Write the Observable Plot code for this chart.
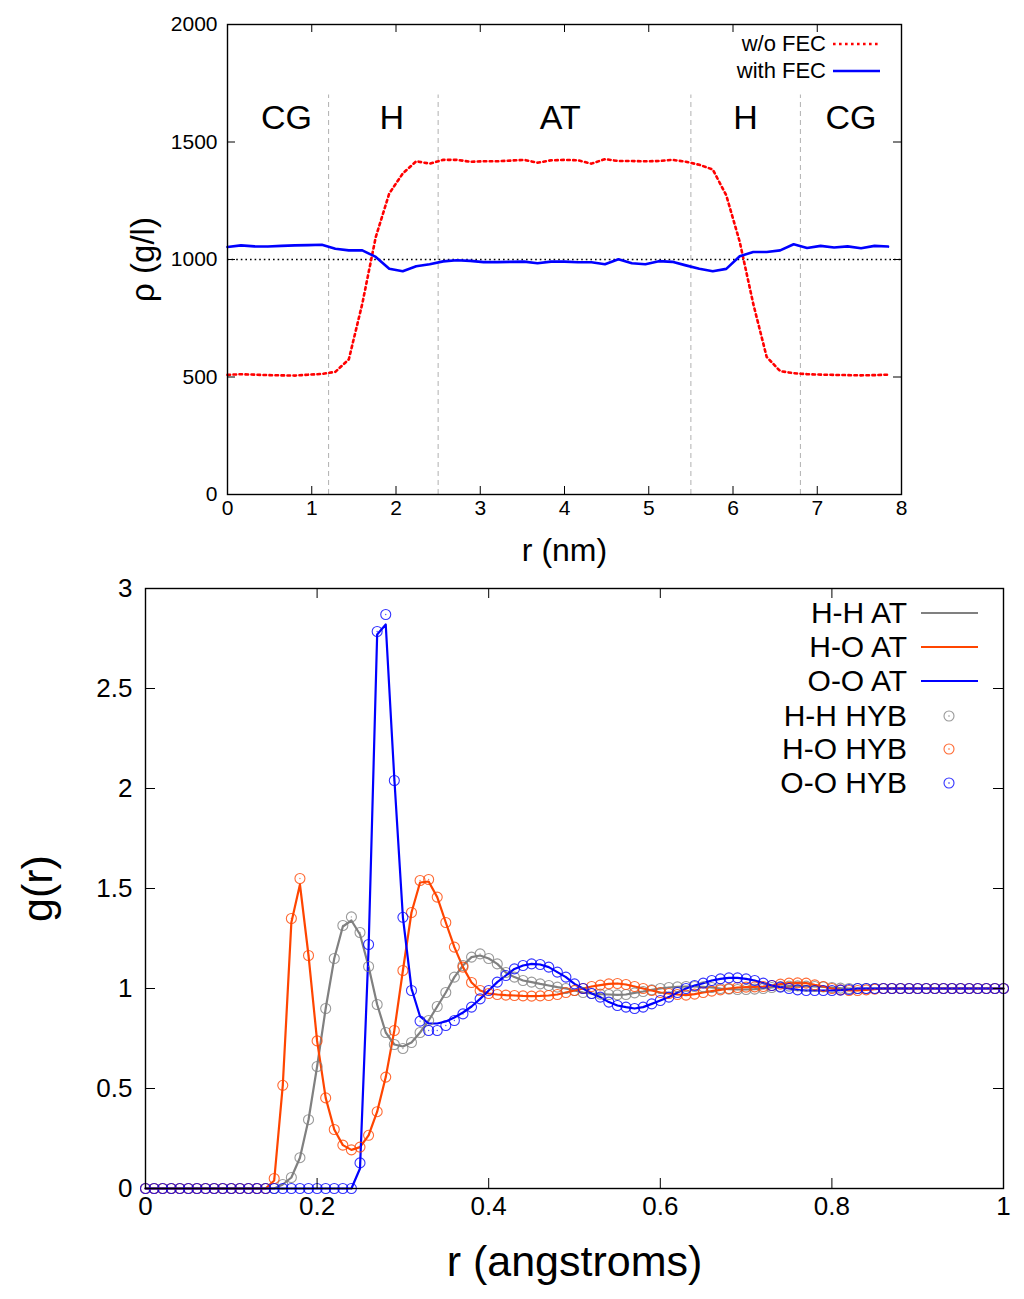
<!DOCTYPE html>
<html><head><meta charset="utf-8">
<script src="https://cdn.jsdelivr.net/npm/d3@7"></script>
<script src="https://cdn.jsdelivr.net/npm/@observablehq/plot@0.6"></script>
<style>
body{margin:0;background:#fff;}
#wrap{position:relative;width:1024px;height:1299px;background:#fff;}
#top svg,#bottom svg{display:block}
.legtext{position:absolute;text-align:right;white-space:nowrap;color:#000}
</style></head><body>
<div id="wrap"><div id="top"></div><div id="bottom"></div></div>
<script>
// ---------- top panel data: density profile ----------
const topR = [0,0.16,0.32,0.48,0.64,0.8,0.96,1.12,1.28,1.44,1.6,1.76,1.92,2.08,2.24,2.4,2.56,2.72,2.88,3.04,3.2,3.36,3.52,3.68,3.84,4,4.16,4.32,4.48,4.64,4.8,4.96,5.12,5.28,5.44,5.6,5.76,5.92,6.08,6.24,6.4,6.56,6.72,6.88,7.04,7.2,7.36,7.52,7.68,7.84];
const rhoWithoutFEC = [509,512,510,508,507,506,510,513,522,575,812,1096,1281,1366,1418,1408,1424,1424,1416,1418,1418,1421,1424,1412,1422,1424,1422,1408,1427,1419,1419,1418,1419,1424,1416,1403,1383,1273,1075,812,585,525,516,512,510,509,508,507,508,510];
const rhoWithFEC = [1053,1060,1056,1055,1058,1060,1061,1063,1046,1039,1039,1011,961,950,971,980,992,997,994,989,989,990,991,984,991,991,988,988,980,1001,984,980,993,990,975,961,950,960,1014,1032,1032,1039,1065,1049,1058,1051,1056,1048,1058,1055];
const topXTicks = [0,1,2,3,4,5,6,7,8];
const topYTicks = [0,500,1000,1500,2000];
const regionBounds = [1.2,2.5,5.5,6.8];
const regionLabels = ["CG","H","AT","H","CG"];
const regionLabelR = [0.7,1.95,3.95,6.15,7.4];
const referenceDensity = [1000];
const topLegend = ["w/o FEC","with FEC"];

// ---------- bottom panel data: radial distribution functions ----------
const gR = [0,0.01,0.02,0.03,0.04,0.05,0.06,0.07,0.08,0.09,0.1,0.11,0.12,0.13,0.14,0.15,0.16,0.17,0.18,0.19,0.2,0.21,0.22,0.23,0.24,0.25,0.26,0.27,0.28,0.29,0.3,0.31,0.32,0.33,0.34,0.35,0.36,0.37,0.38,0.39,0.4,0.41,0.42,0.43,0.44,0.45,0.46,0.47,0.48,0.49,0.5,0.51,0.52,0.53,0.54,0.55,0.56,0.57,0.58,0.59,0.6,0.61,0.62,0.63,0.64,0.65,0.66,0.67,0.68,0.69,0.7,0.71,0.72,0.73,0.74,0.75,0.76,0.77,0.78,0.79,0.8,0.81,0.82,0.83,0.84,0.85,0.86,0.87,0.88,0.89,0.9,0.91,0.92,0.93,0.94,0.95,0.96,0.97,0.98,0.99,1];
const gHH_AT = [0,0,0,0,0,0,0,0,0,0,0,0,0,0,0,0,0.02,0.055,0.154,0.344,0.61,0.9,1.15,1.31,1.34,1.27,1.11,0.92,0.78,0.72,0.71,0.73,0.78,0.84,0.91,0.98,1.057,1.115,1.157,1.165,1.15,1.123,1.08,1.057,1.04,1.032,1.023,1.015,1.007,1,0.99,0.98,0.975,0.972,0.97,0.968,0.97,0.978,0.985,0.993,1,1.005,1.008,1.01,1.01,1.008,1.005,1,0.997,0.995,0.995,0.997,1,1.005,1.01,1.012,1.013,1.012,1.01,1.008,1.005,1.002,1,1,1,1,1,1,1,1,1,1,1,1,1,1,1,1,1,1,1];
const gHO_AT = [0,0,0,0,0,0,0,0,0,0,0,0,0,0,0,0.04,0.516,1.33,1.52,1.165,0.738,0.453,0.295,0.217,0.193,0.207,0.266,0.384,0.557,0.79,1.09,1.38,1.53,1.535,1.457,1.33,1.207,1.107,1.03,0.99,0.975,0.97,0.967,0.965,0.963,0.962,0.963,0.965,0.97,0.98,0.99,1,1.01,1.017,1.023,1.025,1.02,1.01,1,0.99,0.98,0.975,0.97,0.967,0.972,0.98,0.987,0.993,1,1.005,1.007,1.008,1.01,1.015,1.022,1.027,1.028,1.027,1.018,1.01,1,0.993,0.99,0.99,0.993,0.997,1,1,1,1,1,1,1,1,1,1,1,1,1,1,1];
const gOO_AT = [0,0,0,0,0,0,0,0,0,0,0,0,0,0,0,0,0,0,0,0,0,0,0,0,0,0.1,1.2,2.77,2.82,2.05,1.356,1,0.86,0.825,0.825,0.835,0.855,0.88,0.91,0.948,0.99,1.032,1.065,1.098,1.115,1.123,1.12,1.107,1.082,1.057,1.023,1,0.975,0.957,0.932,0.915,0.907,0.9,0.907,0.923,0.94,0.957,0.98,1,1.015,1.027,1.04,1.048,1.053,1.053,1.048,1.04,1.027,1.015,1.007,1,0.993,0.99,0.99,0.99,0.99,0.992,0.995,1,1,1,1,1,1,1,1,1,1,1,1,1,1,1,1,1,1];
const gHH_HYB = [0,0,0,0,0,0,0,0,0,0,0,0,0,0,0,0,0.02,0.055,0.154,0.344,0.61,0.9,1.15,1.315,1.358,1.28,1.11,0.92,0.78,0.72,0.7,0.73,0.78,0.84,0.91,0.98,1.057,1.115,1.157,1.173,1.15,1.123,1.08,1.057,1.04,1.032,1.023,1.015,1.007,1,0.99,0.98,0.975,0.972,0.97,0.968,0.97,0.978,0.985,0.993,1,1.005,1.008,1.01,1.01,1.008,1.005,1,0.997,0.995,0.995,0.997,1,1.005,1.01,1.012,1.013,1.012,1.01,1.008,1.005,1.002,1,1,1,1,1,1,1,1,1,1,1,1,1,1,1,1,1,1,1];
const gHO_HYB = [0,0,0,0,0,0,0,0,0,0,0,0,0,0,0,0.05,0.516,1.35,1.55,1.165,0.738,0.453,0.295,0.217,0.193,0.207,0.266,0.384,0.557,0.79,1.09,1.38,1.54,1.545,1.457,1.33,1.207,1.107,1.03,0.99,0.975,0.97,0.967,0.965,0.963,0.962,0.963,0.965,0.97,0.98,0.99,1,1.01,1.017,1.023,1.025,1.02,1.01,1,0.99,0.98,0.975,0.97,0.967,0.972,0.98,0.987,0.993,1,1.005,1.007,1.008,1.01,1.015,1.022,1.027,1.028,1.027,1.018,1.01,1,0.993,0.99,0.99,0.993,0.997,1,1,1,1,1,1,1,1,1,1,1,1,1,1,1];
const gOO_HYB = [0,0,0,0,0,0,0,0,0,0,0,0,0,0,0,0,0,0,0,0,0,0,0,0,0,0.128,1.22,2.785,2.87,2.04,1.356,0.99,0.837,0.79,0.79,0.815,0.84,0.873,0.907,0.948,0.99,1.032,1.065,1.098,1.115,1.123,1.12,1.107,1.082,1.057,1.023,1,0.975,0.957,0.932,0.915,0.907,0.9,0.907,0.923,0.94,0.957,0.98,1,1.015,1.027,1.04,1.048,1.053,1.053,1.048,1.04,1.027,1.015,1.007,1,0.993,0.99,0.99,0.99,0.99,0.992,0.995,1,1,1,1,1,1,1,1,1,1,1,1,1,1,1,1,1,1];
const gXTicks = [0,0.2,0.4,0.6,0.8,1];
const gYTicks = [0,0.5,1,1.5,2,2.5,3];
const gLegend = ["H-H AT","H-O AT","O-O AT","H-H HYB","H-O HYB","O-O HYB"];

// ---------- styling ----------
const sansFont = "'Liberation Sans', Arial, Helvetica, sans-serif";
const cRed = "#ff0000", cBlue = "#0000ff", cGray = "#808080", cOrange = "#ff4500";

// ---------- top chart ----------
const TW = 1024, TH = 575, TL = 227, TR = 123, TT = 24, TB = 81;
const tpw = TW - TL - TR, tph = TH - TT - TB, ttick = 8;
const withoutRows = topR.map((r, i) => ({r, v: rhoWithoutFEC[i]}));
const withRows = topR.map((r, i) => ({r, v: rhoWithFEC[i]}));

const topChart = Plot.plot({
  width: TW, height: TH,
  marginLeft: TL, marginRight: TR, marginTop: TT, marginBottom: TB,
  x: {domain: [0, 8]},
  y: {domain: [0, 2000]},
  style: {fontFamily: sansFont, fontSize: "21px", color: "#000", background: "#fff", overflow: "visible"},
  marks: [
    Plot.ruleX(regionBounds, {x: d => d, y1: 0, y2: 1700, stroke: "#b0b0b0", strokeWidth: 1, strokeDasharray: "5,4"}),
    Plot.ruleY(referenceDensity, {y: d => d, stroke: "#000", strokeWidth: 1.4, strokeDasharray: "1.6,3"}),
    Plot.line(withoutRows, {x: "r", y: "v", stroke: cRed, strokeWidth: 2.6, strokeDasharray: "2.6,3.4"}),
    Plot.line(withRows, {x: "r", y: "v", stroke: cBlue, strokeWidth: 2.6}),
    Plot.text(regionLabels, {x: (d, i) => regionLabelR[i], y: () => 1600, text: d => d, fontSize: 34}),
    Plot.tickX(topXTicks, {x: d => d, insetTop: tph - ttick, stroke: "#000"}),
    Plot.tickX(topXTicks, {x: d => d, insetBottom: tph - ttick, stroke: "#000"}),
    Plot.tickY(topYTicks, {y: d => d, insetRight: tpw - ttick, stroke: "#000"}),
    Plot.tickY(topYTicks, {y: d => d, insetLeft: tpw - ttick, stroke: "#000"}),
    Plot.axisX({ticks: topXTicks, tickSize: 0, tickPadding: 6, tickFormat: d => String(d), label: null}),
    Plot.axisY({ticks: topYTicks, tickSize: 0, tickPadding: 10, tickFormat: d => String(d), label: null}),
    Plot.frame({stroke: "#000", strokeWidth: 1.4}),
    Plot.text(["r (nm)"], {frameAnchor: "bottom", dy: 56, text: d => d, fontSize: 32, textAnchor: "middle", lineAnchor: "middle"}),
    Plot.text(["ρ (g/l)"], {frameAnchor: "left", dx: -84, rotate: -90, text: d => d, fontSize: 33, textAnchor: "middle", lineAnchor: "middle"})
  ]
});
document.getElementById("top").appendChild(topChart);

// ---------- bottom chart ----------
const BW = 1024, BH = 724, BL = 145, BR = 21, BT = 13, BB = 111;
const bpw = BW - BL - BR, bph = BH - BT - BB, btick = 10;
const rowsOf = arr => gR.map((r, i) => ({r, g: arr[i]}));

const bottomChart = Plot.plot({
  width: BW, height: BH,
  marginLeft: BL, marginRight: BR, marginTop: BT, marginBottom: BB,
  x: {domain: [0, 1]},
  y: {domain: [0, 3]},
  style: {fontFamily: sansFont, fontSize: "26px", color: "#000", background: "#fff", overflow: "visible"},
  marks: [
    Plot.line(rowsOf(gHH_AT), {x: "r", y: "g", stroke: cGray, strokeWidth: 2.2}),
    Plot.line(rowsOf(gHO_AT), {x: "r", y: "g", stroke: cOrange, strokeWidth: 2.2}),
    Plot.line(rowsOf(gOO_AT), {x: "r", y: "g", stroke: cBlue, strokeWidth: 2.2}),
    Plot.dot(rowsOf(gHH_HYB), {x: "r", y: "g", r: 5, stroke: cGray, strokeOpacity: 0.8, strokeWidth: 1.1, fill: "none"}),
    Plot.dot(rowsOf(gHH_HYB), {x: "r", y: "g", r: 0.7, fill: cGray, stroke: "none", fillOpacity: 0.7}),
    Plot.dot(rowsOf(gHO_HYB), {x: "r", y: "g", r: 5, stroke: cOrange, strokeOpacity: 0.8, strokeWidth: 1.1, fill: "none"}),
    Plot.dot(rowsOf(gHO_HYB), {x: "r", y: "g", r: 0.7, fill: cOrange, stroke: "none", fillOpacity: 0.7}),
    Plot.dot(rowsOf(gOO_HYB), {x: "r", y: "g", r: 5, stroke: cBlue, strokeOpacity: 0.8, strokeWidth: 1.1, fill: "none"}),
    Plot.dot(rowsOf(gOO_HYB), {x: "r", y: "g", r: 0.7, fill: cBlue, stroke: "none", fillOpacity: 0.7}),
    Plot.tickX(gXTicks, {x: d => d, insetTop: bph - btick, stroke: "#000"}),
    Plot.tickX(gXTicks, {x: d => d, insetBottom: bph - btick, stroke: "#000"}),
    Plot.tickY(gYTicks, {y: d => d, insetRight: bpw - btick, stroke: "#000"}),
    Plot.tickY(gYTicks, {y: d => d, insetLeft: bpw - btick, stroke: "#000"}),
    Plot.axisX({ticks: gXTicks, tickSize: 0, tickPadding: 8, tickFormat: d => String(d), label: null}),
    Plot.axisY({ticks: gYTicks, tickSize: 0, tickPadding: 13, tickFormat: d => String(d), label: null}),
    Plot.frame({stroke: "#000", strokeWidth: 1.4}),
    Plot.text(["r (angstroms)"], {frameAnchor: "bottom", dy: 74, text: d => d, fontSize: 43, textAnchor: "middle", lineAnchor: "middle"}),
    Plot.text(["g(r)"], {frameAnchor: "left", dx: -107, rotate: -90, text: d => d, fontSize: 43, textAnchor: "middle", lineAnchor: "middle"})
  ]
});
document.getElementById("bottom").appendChild(bottomChart);

// ---------- legends (HTML/SVG overlay) ----------
const wrap = document.getElementById("wrap");
const NS = "http://www.w3.org/2000/svg";
const overlay = document.createElementNS(NS, "svg");
overlay.setAttribute("width", 1024); overlay.setAttribute("height", 1299);
overlay.style.position = "absolute"; overlay.style.left = "0"; overlay.style.top = "0"; overlay.style.pointerEvents = "none";
wrap.appendChild(overlay);

function legendRow(label, yc, textRight, fontSize, family, sample) {
  const lh = fontSize * 1.2;
  const div = document.createElement("div");
  div.className = "legtext";
  div.textContent = label;
  div.style.left = (textRight - 400) + "px";
  div.style.width = "400px";
  div.style.top = (yc - lh / 2) + "px";
  div.style.lineHeight = lh + "px";
  div.style.height = lh + "px";
  div.style.fontSize = fontSize + "px";
  div.style.fontFamily = family;
  wrap.appendChild(div);
  if (sample.kind === "circle") {
    const c = document.createElementNS(NS, "circle");
    c.setAttribute("cx", sample.cx); c.setAttribute("cy", yc); c.setAttribute("r", 5);
    c.setAttribute("fill", "none"); c.setAttribute("stroke", sample.color); c.setAttribute("stroke-width", 1.1);
    c.setAttribute("stroke-opacity", 0.8);
    overlay.appendChild(c);
    const d = document.createElementNS(NS, "circle");
    d.setAttribute("cx", sample.cx); d.setAttribute("cy", yc); d.setAttribute("r", 0.7);
    d.setAttribute("fill", sample.color);
    overlay.appendChild(d);
  } else {
    const l = document.createElementNS(NS, "line");
    l.setAttribute("x1", sample.x1); l.setAttribute("x2", sample.x2);
    l.setAttribute("y1", yc); l.setAttribute("y2", yc);
    l.setAttribute("stroke", sample.color); l.setAttribute("stroke-width", sample.width);
    if (sample.dash) l.setAttribute("stroke-dasharray", sample.dash);
    overlay.appendChild(l);
  }
}

legendRow(topLegend[0], 44, 826, 22, sansFont, {kind: "line", x1: 833, x2: 880, color: cRed, width: 2.6, dash: "2.6,3.4"});
legendRow(topLegend[1], 71, 826, 22, sansFont, {kind: "line", x1: 833, x2: 880, color: cBlue, width: 2.6});

const gLegColors = [cGray, cOrange, cBlue, cGray, cOrange, cBlue];
const gLegY = [613, 647, 681, 716, 749, 783];
gLegend.forEach((lab, i) => {
  const sample = i < 3
    ? {kind: "line", x1: 921, x2: 978, color: gLegColors[i], width: 2.2}
    : {kind: "circle", cx: 949, color: gLegColors[i]};
  legendRow(lab, gLegY[i], 907, 30, sansFont, sample);
});
</script>
</body></html>
